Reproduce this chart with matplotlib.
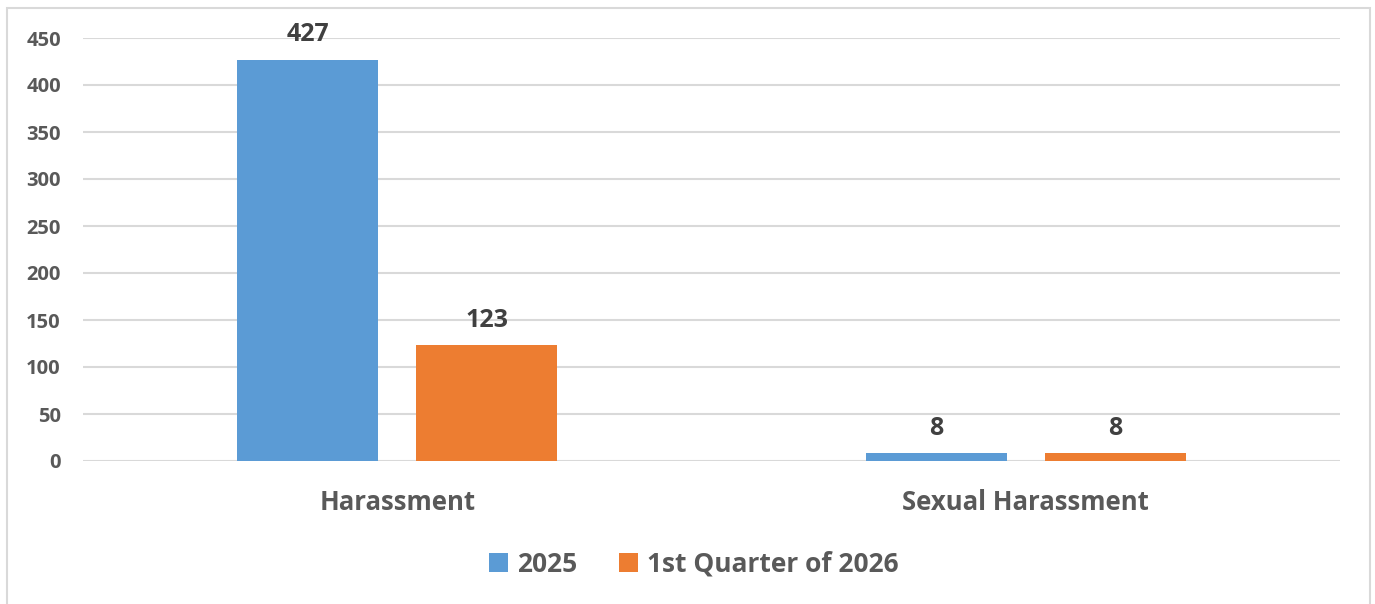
import matplotlib
matplotlib.use("Agg")
import matplotlib.pyplot as plt
import numpy as np
from matplotlib.patches import Rectangle

categories = ["Harassment", "Sexual Harassment"]
series_names = ["2025", "1st Quarter of 2026"]
values_2025 = [427, 8]
values_q1_2026 = [123, 8]
yticks = [0, 50, 100, 150, 200, 250, 300, 350, 400, 450]

plt.rcParams['font.family'] = ['Open Sans', 'DejaVu Sans']
txt = '#595959'
grid = '#d9d9d9'
colors = ['#5b9bd5', '#ed7d31']

fig = plt.figure(figsize=(13.75, 6.04), dpi=100)
fig.patches.append(Rectangle((7/1375, -0.01), (1370-7)/1375, 1 - 8/604 + 0.01,
                             transform=fig.transFigure, fill=False,
                             edgecolor=grid, linewidth=1.5))
ax = fig.add_axes([83/1375, 1 - 461/604, (1340-83)/1375, (461-38)/604])

x = np.arange(len(categories))
w = 0.224
off = 0.1425
b1 = ax.bar(x - off, values_2025, w, color=colors[0], label=series_names[0], zorder=3)
b2 = ax.bar(x + off, values_q1_2026, w, color=colors[1], label=series_names[1], zorder=3)

for bars in (b1, b2):
    ax.bar_label(bars, padding=9, fontsize=18, fontweight='bold', color='#404040')

ax.set_xlim(-0.5, 1.5)
ax.set_ylim(0, 450)
ax.set_yticks(yticks)
ax.set_xticks(x)
ax.set_xticklabels(categories, fontsize=18.5, fontweight='bold', color=txt)
ax.tick_params(axis='x', length=0, pad=20)
ax.tick_params(axis='y', length=0, pad=16, labelsize=14.5, labelcolor=txt)
for lab in ax.get_yticklabels():
    lab.set_fontweight('bold')
ax.yaxis.grid(True, color=grid, linewidth=1.5, zorder=0)
for s in ax.spines.values():
    s.set_visible(False)

leg = fig.legend(loc='center', bbox_to_anchor=(694/1375, 1 - 564/604), ncol=2,
                 frameon=False, handlelength=0.7, handleheight=0.7,
                 handletextpad=0.35, columnspacing=1.6,
                 prop={'weight': 'bold', 'size': 19})
for t in leg.get_texts():
    t.set_color(txt)

fig.savefig('out.png', dpi=100)
